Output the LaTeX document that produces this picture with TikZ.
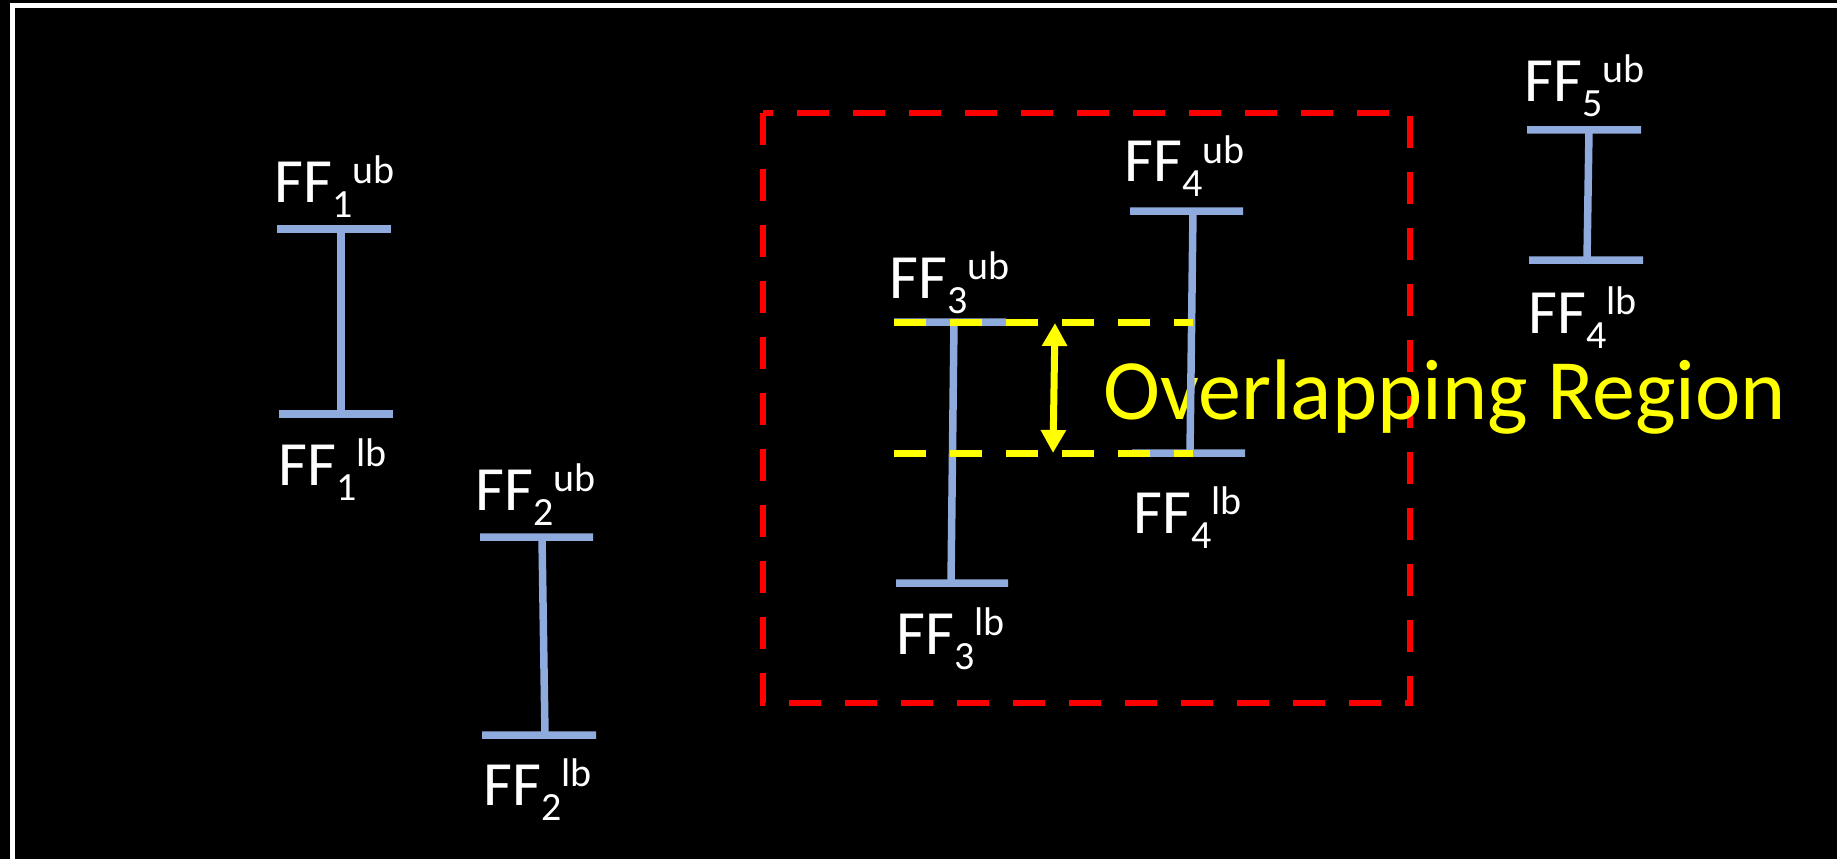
\documentclass[tikz,border=0pt]{standalone}
\usepackage{fontspec}
\setmainfont{Carlito}
\usetikzlibrary{arrows.meta}
\definecolor{barblue}{HTML}{8FAADC}
\definecolor{regionyellow}{HTML}{FFFF00}
\tikzset{every node/.style={font=\fontsize{31.5}{36}\selectfont,text=white,inner sep=0pt,anchor=base west},
  beam/.style={draw=barblue,line width=3.75pt},
  overlapline/.style={draw=regionyellow,line width=3.5pt,dash pattern=on 16pt off 12pt}}
\newcommand{\bnd}[2]{FF\raisebox{-7.5pt}{\fontsize{20}{20}\selectfont#1}\raisebox{9.5pt}{\fontsize{20}{20}\selectfont#2}}

\begin{document}
\begin{tikzpicture}[x=0.5pt,y=0.5pt]
  \path[use as bounding box] (0,0) rectangle (1837,859);
  \fill[black] (0,0) rectangle (1837,859);
  \draw[white,line width=2.5pt] (12.5,-10) -- (12.5,853.3) -- (1850,853.3);
  \draw[red,line width=3pt,dash pattern=on 16pt off 12pt] (763,746) rectangle (1410,156);
  \node[text=regionyellow,font=\fontsize{43}{50}\selectfont] (ovl) at (1103,440) {Overlapping Region};
  % intervals
  \draw[beam] (277,630) -- (391,630) (341,630) -- (341,445) (279,445) -- (393,445);
  \draw[beam] (480,322) -- (593,322) (542,322) -- (545,124) (482,124) -- (596,124);
  \draw[beam] (894,537) -- (1006,537) (954,537) -- (951,276) (896,276) -- (1008,276);
  \draw[beam] (1130,648) -- (1243,648) (1193,648) -- (1190,406) (1132,406) -- (1245,406);
  \draw[beam] (1527,729) -- (1641,729) (1589,729) -- (1587,599) (1529,599) -- (1643,599);
  % bounds
  \node (ff1ub) at (274,657) {\bnd{1}{ub}};
  \node (ff1lb) at (278,374) {\bnd{1}{lb}};
  \node (ff2ub) at (475,349) {\bnd{2}{ub}};
  \node (ff2lb) at (483,54) {\bnd{2}{lb}};
  \node (ff3ub) at (889,561) {\bnd{3}{ub}};
  \node (ff3lb) at (896,205) {\bnd{3}{lb}};
  \node (ff4ub) at (1124,677) {\bnd{4}{ub}};
  \node (ff4lb) at (1133,326) {\bnd{4}{lb}};
  \node (ff5ub) at (1524,757) {\bnd{5}{ub}};
  \node (ff5lb) at (1528,526) {\bnd{4}{lb}};
  % overlap
  \coordinate (ovtop) at (1055,536);
  \coordinate (ovbot) at (1053,406);
  \draw[overlapline] (894,537) -- (1193,537);
  \draw[overlapline] (894,406) -- (1193,406);
  \draw[regionyellow,line width=3.5pt,{Triangle[length=11.5pt,width=12pt]}-{Triangle[length=11.5pt,width=12pt]}] (ovtop) -- (ovbot);
\end{tikzpicture}
\end{document}
